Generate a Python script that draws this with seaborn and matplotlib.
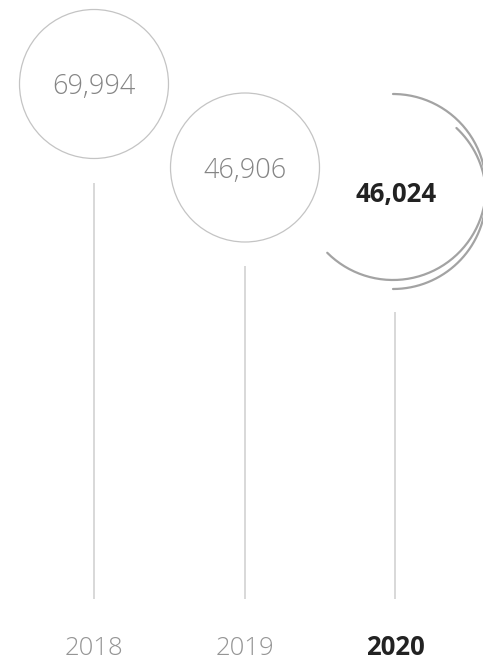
import numpy as np
import matplotlib.pyplot as plt
import seaborn as sns
from matplotlib.patches import Circle

sns.set_style("white")
plt.rcParams['font.family'] = ['Open Sans', 'DejaVu Sans']

years = ['2018', '2019', '2020']
values = [69994, 46906, 46024]

# layout (pixels, y grows downward)
x_pos = [94, 245, 395]
circle_y = [84, 167.5, 187]
line_top = [183, 266, 312]
line_bottom = 599
radius = 74.5

fig = plt.figure(figsize=(4.83, 6.62), dpi=100)
ax = fig.add_axes([0, 0, 1, 1])
ax.set_xlim(0, 483)
ax.set_ylim(662, 0)
ax.axis('off')

# stems
ax.vlines(x_pos, line_top, line_bottom, color='#d2d2d2', lw=1.2)

for i, (yr, v) in enumerate(zip(years, values)):
    x, y = x_pos[i], circle_y[i]
    last = i == len(years) - 1
    label = f'{v:,}'
    if not last:
        ax.add_patch(Circle((x, y), radius, fill=False, ec='#c4c4c4', lw=0.9))
        ax.text(x, y + 10.5, label, ha='center', va='baseline',
                fontsize=19.5, color='#858585', fontweight='light')
        ax.text(x, 655, yr, ha='center', va='baseline',
                fontsize=18.5, color='#959595', fontweight='light')
    else:
        r = 93
        t = np.radians(np.linspace(-135, 90, 200))
        ax.plot(x - 2 + r * np.cos(t), y - r * np.sin(t), color='#a3a3a3', lw=1.6,
                solid_capstyle='round')
        t2 = np.radians(np.linspace(-90, 47, 200))
        ax.plot(x - 2 + r * np.cos(t2), y + 9 - r * np.sin(t2), color='#a3a3a3', lw=1.6,
                solid_capstyle='round')
        ax.text(x + 1, y + 15, label, ha='center', va='baseline',
                fontsize=18.5, color='#222222', fontweight='bold')
        ax.text(x, 655, yr, ha='center', va='baseline',
                fontsize=18.5, color='#222222', fontweight='bold')

fig.savefig('out.png', dpi=100, facecolor='white')
